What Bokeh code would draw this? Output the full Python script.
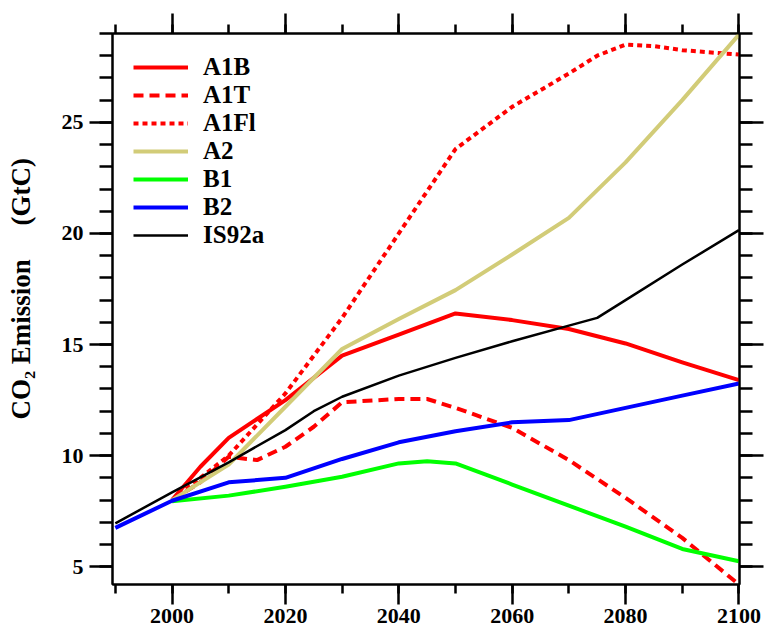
from bokeh.plotting import figure
from bokeh.models import (LinearAxis, SingleIntervalTicker, Range1d, Legend,
                          LegendItem, CustomJSTickFormatter)
from bokeh.embed import file_html
from bokeh.resources import INLINE

# ---- data (GtC) ----
a1b_years = [2000, 2005, 2010, 2020, 2030, 2040, 2050, 2060, 2070, 2080, 2090, 2100]
a1b_vals = [8.0, 9.5, 10.8, 12.5, 14.5, 15.45, 16.4, 16.1, 15.7, 15.05, 14.2, 13.4]

a1t_years = [2000, 2005, 2010, 2015, 2020, 2025, 2030, 2040, 2045, 2050, 2060, 2070, 2080, 2090, 2100]
a1t_vals = [8.0, 8.8, 9.95, 9.8, 10.4, 11.3, 12.4, 12.55, 12.55, 12.15, 11.25, 9.8, 8.1, 6.3, 4.2]

a1fi_years = [2000, 2010, 2020, 2030, 2040, 2050, 2060, 2070, 2075, 2080, 2085, 2090, 2100]
a1fi_vals = [8.0, 10.0, 12.8, 16.2, 20.0, 23.8, 25.7, 27.2, 28.0, 28.5, 28.43, 28.25, 28.05]

a2_years = [2000, 2010, 2020, 2030, 2040, 2050, 2060, 2070, 2080, 2090, 2100]
a2_vals = [8.0, 9.6, 12.2, 14.8, 16.15, 17.45, 19.05, 20.7, 23.2, 26.0, 28.95]

b1_years = [2000, 2010, 2020, 2030, 2040, 2045, 2050, 2060, 2070, 2080, 2090, 2100]
b1_vals = [7.95, 8.2, 8.6, 9.05, 9.65, 9.75, 9.65, 8.7, 7.75, 6.8, 5.8, 5.25]

b2_years = [1990, 2000, 2010, 2020, 2030, 2040, 2050, 2060, 2070, 2080, 2090, 2100]
b2_vals = [6.75, 7.97, 8.8, 9.0, 9.85, 10.6, 11.1, 11.5, 11.6, 12.15, 12.7, 13.25]

is92a_years = [1990, 2000, 2010, 2020, 2025, 2030, 2040, 2050, 2060, 2070, 2075, 2080, 2090, 2100]
is92a_vals = [6.95, 8.35, 9.7, 11.15, 12.0, 12.65, 13.6, 14.4, 15.15, 15.85, 16.2, 17.0, 18.6, 20.15]

labels = ["A1B", "A1T", "A1Fl", "A2", "B1", "B2", "IS92a"]

FONT = "Liberation Serif"

p = figure(width=766, height=631,
           x_range=Range1d(1989.5, 2100.1), y_range=Range1d(4.2, 29.0),
           output_backend="svg", toolbar_location=None,
           x_axis_location=None, y_axis_location=None,
           min_border_left=112, min_border_right=27,
           min_border_top=33, min_border_bottom=47)
p.grid.visible = False
p.outline_line_color = "black"
p.outline_line_width = 2
p.background_fill_color = "white"
p.border_fill_color = "white"


def style_axis(ax, major_out, minor_out, show_labels):
    ax.axis_line_width = 2
    ax.axis_line_color = "black"
    ax.major_tick_in = 0
    ax.minor_tick_in = 0
    ax.major_tick_out = major_out
    ax.minor_tick_out = minor_out
    ax.major_tick_line_width = 2.5
    ax.minor_tick_line_width = 2.5
    ax.major_tick_line_color = "black"
    ax.minor_tick_line_color = "black"
    if show_labels:
        ax.major_label_text_font = FONT
        ax.major_label_text_font_style = "bold"
        ax.major_label_text_font_size = "22px"
        ax.major_label_text_color = "black"
    else:
        ax.formatter = CustomJSTickFormatter(code="return '';")
        ax.major_label_text_font_size = "1px"
        ax.major_label_text_color = None
        ax.major_label_standoff = 0


xb = LinearAxis(ticker=SingleIntervalTicker(interval=20, num_minor_ticks=2))
style_axis(xb, 20, 9, True)
xb.major_label_standoff = 4
p.add_layout(xb, "below")

xt = LinearAxis(ticker=SingleIntervalTicker(interval=20, num_minor_ticks=2))
style_axis(xt, 20, 9, False)
p.add_layout(xt, "above")

NB = "\u00a0"
yl = LinearAxis(ticker=SingleIntervalTicker(interval=5, num_minor_ticks=5))
style_axis(yl, 23, 13, True)
yl.major_label_standoff = 6
yl.axis_label = NB * 6 + "CO\u2082 Emission" + NB * 5 + "(GtC)"
yl.axis_label_text_font = FONT
yl.axis_label_text_font_style = "bold"
yl.axis_label_text_font_size = "27px"
yl.axis_label_text_color = "black"
yl.axis_label_standoff = 23
p.add_layout(yl, "left")

yr = LinearAxis(ticker=SingleIntervalTicker(interval=5, num_minor_ticks=5))
style_axis(yr, 24, 13, False)
p.add_layout(yr, "right")

RED = "#ff0000"
series = [
    (a1b_years, a1b_vals, RED, 4, "solid"),
    (a1t_years, a1t_vals, RED, 4, "10 6"),
    (a1fi_years, a1fi_vals, RED, 4, "5 4"),
    (a2_years, a2_vals, "#d2cc78", 4, "solid"),
    (b1_years, b1_vals, "#00ff00", 4, "solid"),
    (b2_years, b2_vals, "#0000ff", 4, "solid"),
    (is92a_years, is92a_vals, "#000000", 2.5, "solid"),
]

items = []
for (xs, ys, col, lw, dash), lab in zip(series, labels):
    r = p.line(xs, ys, line_color=col, line_width=lw, line_dash=dash, line_join="round")
    items.append(LegendItem(label=lab, renderers=[r]))

legend = Legend(items=items, location=(21, 335))
legend.border_line_color = None
legend.background_fill_alpha = 0
legend.margin = 0
legend.padding = 0
legend.spacing = 0
legend.glyph_width = 55
legend.glyph_height = 26
legend.label_height = 26
legend.label_standoff = 15
legend.label_text_font = FONT
legend.label_text_font_style = "bold"
legend.label_text_font_size = "25px"
legend.label_text_color = "black"
p.add_layout(legend)

open("out.html", "w").write(file_html(p, INLINE))
